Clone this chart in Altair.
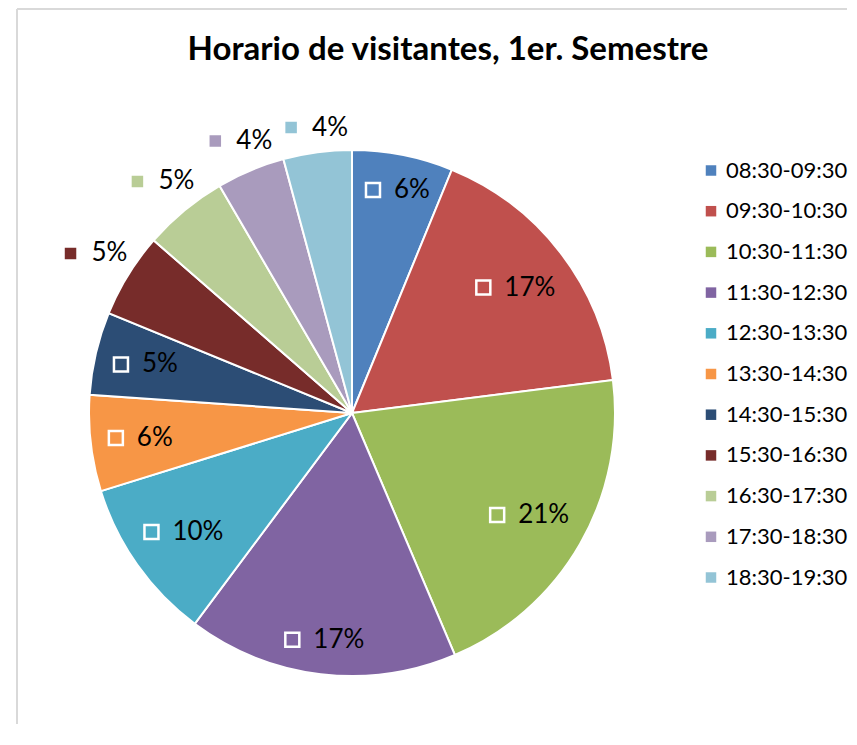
import altair as alt
import pandas as pd

titulo = "Horario de visitantes, 1er. Semestre"
horarios = ["08:30-09:30", "09:30-10:30", "10:30-11:30", "11:30-12:30",
            "12:30-13:30", "13:30-14:30", "14:30-15:30", "15:30-16:30",
            "16:30-17:30", "17:30-18:30", "18:30-19:30"]
porcentajes = [6.2, 16.8, 20.6, 16.6, 10.0, 5.9, 5.1, 5.2, 5.2, 4.2, 4.2]
colores = ["#4F81BD", "#C0504D", "#9BBB59", "#8064A2", "#4BACC6", "#F79646",
           "#2C4D75", "#772C2A", "#B9CD96", "#A99BBD", "#93C4D6"]

df = pd.DataFrame({"horario": horarios, "valor": porcentajes,
                   "orden": list(range(len(horarios)))})

W, H = 830, 715
CX, CY, R = 335, 404, 263
FONT = "Lato"

escala = alt.Scale(domain=horarios, range=colores)

pie = alt.Chart(df).mark_arc(radius=R, stroke="white", strokeWidth=2).encode(
    theta=alt.Theta("valor:Q", stack=True),
    order=alt.Order("orden:Q"),
    color=alt.Color("horario:N", scale=escala, sort=horarios,
                    legend=alt.Legend(title=None, orient="none", legendX=683, legendY=150.5,
                                      symbolType="square", symbolSize=110,
                                      symbolStrokeWidth=0, symbolOpacity=1,
                                      labelFont=FONT, labelFontSize=22, labelColor="black",
                                      labelOffset=4, rowPadding=18.7, padding=0)),
    x=alt.value(CX), y=alt.value(CY),
)

# label placement: Excel-like inside-end / outside-end boxes
lab = alt.Chart(df).transform_joinaggregate(
    total="sum(valor)"
).transform_window(
    acum="sum(valor)", sort=[alt.SortField("orden")], frame=[None, 0]
).transform_calculate(
    txt="format(round(datum.valor), 'd') + '%'",
    ang="2*PI*(datum.acum - datum.valor/2)/datum.total",
).transform_calculate(
    hw="length(datum.txt) > 2 ? 40.5 : 31",
).transform_calculate(
    ext="datum.hw*abs(sin(datum.ang)) + 14*abs(cos(datum.ang))",
).transform_calculate(
    r="datum.orden >= 7 ? 270 + datum.ext : 247 - datum.ext",
).transform_calculate(
    gx=f"{CX} + datum.r*sin(datum.ang)",
    gy=f"{CY} - datum.r*cos(datum.ang)",
).transform_calculate(
    sx="datum.gx - datum.hw + 8",
    tx="datum.gx - datum.hw + 29",
)

sq = lab.mark_square(size=196, stroke="white", strokeWidth=2.5, filled=True, opacity=1).encode(
    x=alt.X("sx:Q", scale=None), y=alt.Y("gy:Q", scale=None),
    color=alt.Color("horario:N", scale=escala, sort=horarios, legend=None),
)

txt = lab.mark_text(align="left", baseline="middle", font=FONT, fontSize=26,
                    color="black").encode(
    x=alt.X("tx:Q", scale=None), y=alt.Y("gy:Q", scale=None), text="txt:N",
)

one = alt.Data(values=[{"k": 1}])
borde_top = alt.Chart(one).mark_rule(color="#d9d9d9", strokeWidth=2).encode(
    x=alt.value(0), x2=alt.value(W), y=alt.value(0))
borde_left = alt.Chart(one).mark_rule(color="#d9d9d9", strokeWidth=2).encode(
    x=alt.value(0), y=alt.value(0), y2=alt.value(H))

chart = alt.layer(borde_top, borde_left, pie, sq, txt).properties(
    width=W, height=H,
    padding={"left": 8, "top": 0, "right": 0, "bottom": 0},
    title=alt.TitleParams(titulo, font=FONT, fontSize=33, fontWeight="bold",
                          anchor="middle", offset=-59, dx=447 - (16 + W / 2), color="black"),
).configure_view(stroke=None)

chart.save("out.html", embed_options={"renderer": "svg", "actions": False})
